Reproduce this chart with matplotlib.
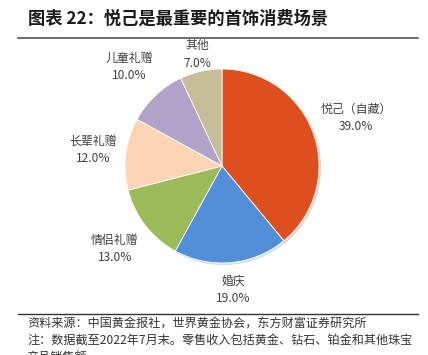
import numpy as np
import matplotlib
matplotlib.use("Agg")
import matplotlib.pyplot as plt
from matplotlib.lines import Line2D

plt.rcParams['font.family'] = ['Noto Sans CJK SC', 'DejaVu Sans']

categories = ["悦己（自藏）", "婚庆", "情侣礼赠", "长辈礼赠", "儿童礼赠", "其他"]
values = [39.0, 19.0, 13.0, 12.0, 10.0, 7.0]
colors = ["#DD4F1F", "#538ED8", "#9BBB59", "#FBD3B5", "#B1A2C8", "#C5BD98"]
label_dist = [1.47, 1.28, 1.40, 1.34, 1.40, 1.18]

title = "图表 22：悦己是最重要的首饰消费场景"
footer = ["资料来源：中国黄金报社，世界黄金协会，东方财富证券研究所",
          "注：数据截至2022年7月末。零售收入包括黄金、钻石、铂金和其他珠宝",
          "产品销售额"]

W, H = 428, 355
fig = plt.figure(figsize=(W / 100, H / 100), dpi=100)
fig.patch.set_facecolor("white")

cx, cy, r = 222, 166, 97
ax = fig.add_axes([(cx - r) / W, (H - cy - r) / H, 2 * r / W, 2 * r / H])
wedges, texts = ax.pie(values, colors=colors, startangle=90, counterclock=False,
                       labels=[f"{c}\n{v:.1f}%" for c, v in zip(categories, values)],
                       labeldistance=1.0,
                       wedgeprops=dict(linewidth=0.6, edgecolor="white"),
                       shadow=dict(ox=0.012, oy=-0.012, shade=0.1, alpha=0.2),
                       textprops=dict(fontsize=8.6, color="#404040", linespacing=1.45,
                                      ha="center", va="center"))
for w, t, d in zip(wedges, texts, label_dist):
    ang = np.deg2rad((w.theta1 + w.theta2) / 2)
    t.set_position((d * np.cos(ang), d * np.sin(ang)))
    t.set_ha("center")
    t.set_va("center")
ax.set_xlim(-1, 1)
ax.set_ylim(-1, 1)
ax.set_aspect("equal")

fig.text(28 / W, 1 - 19 / H, title, fontsize=12.4, fontweight="bold", color="#1a1a1a",
         ha="left", va="center")
fig.add_artist(Line2D([18 / W, 418 / W], [1 - 38 / H, 1 - 38 / H], color="#555555", lw=1.2))
fig.add_artist(Line2D([18 / W, 418 / W], [1 - 314 / H, 1 - 314 / H], color="#333333", lw=1.0))
for i, line in enumerate(footer):
    fig.text(27 / W, 1 - (323 + 17 * i) / H, line, fontsize=8.7, color="#333333",
             ha="left", va="center")

fig.savefig("out.png", dpi=100, facecolor="white")
